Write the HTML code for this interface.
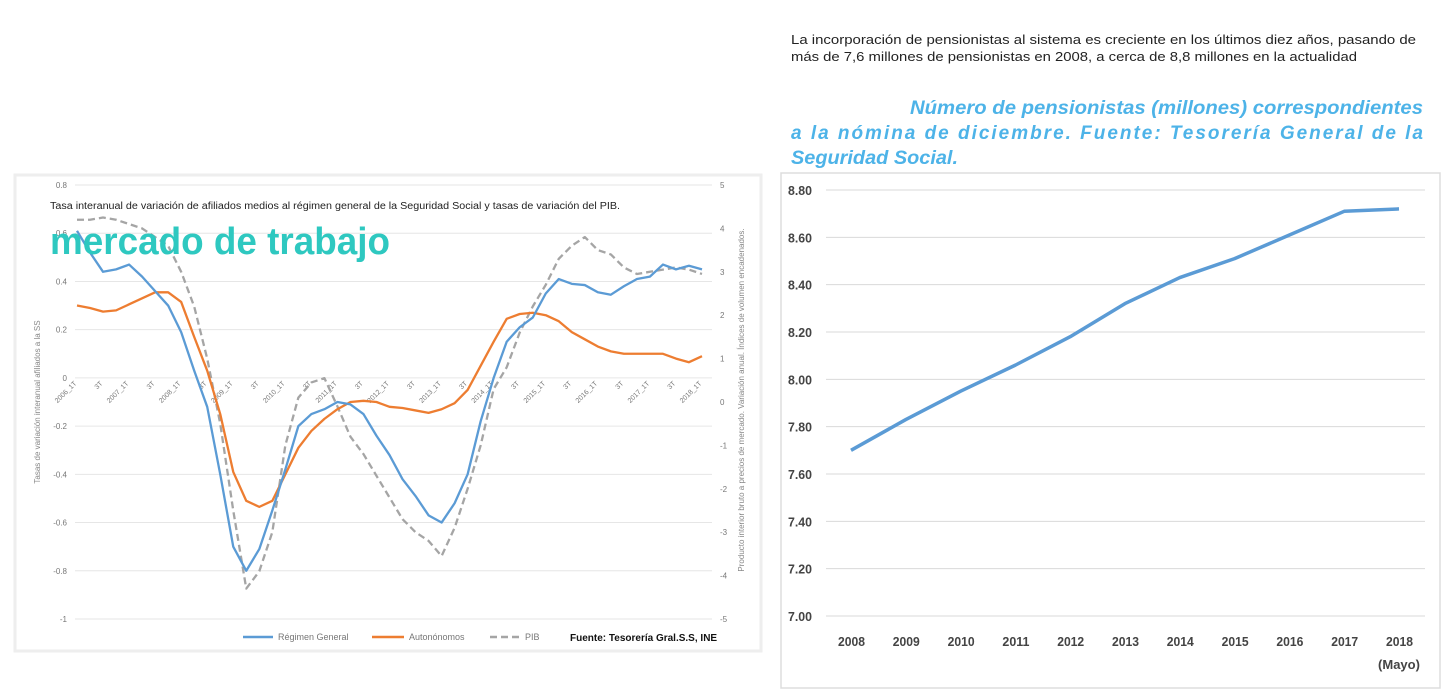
<!DOCTYPE html>
<html><head><meta charset="utf-8"><style>
body{margin:0;background:#fff;width:1447px;height:698px;overflow:hidden;font-family:"Liberation Sans",sans-serif}
svg{position:absolute;left:0;top:0}
</style></head><body>
<svg id="s" width="1447" height="698" xmlns="http://www.w3.org/2000/svg" font-family="Liberation Sans, sans-serif">
<rect x="15" y="175" width="746" height="476" fill="#fff" stroke="#eee" stroke-width="3"/>
<rect x="781" y="173" width="659" height="515" fill="#fff" stroke="#ddd" stroke-width="1.5"/>
<text x="791" y="44" font-size="13" fill="#222" textLength="625" lengthAdjust="spacingAndGlyphs">La incorporación de pensionistas al sistema es creciente en los últimos diez años, pasando de</text>
<text x="791" y="61" font-size="13" fill="#222" textLength="566" lengthAdjust="spacingAndGlyphs">más de 7,6 millones de pensionistas en 2008, a cerca de 8,8 millones en la actualidad</text>
<g font-size="19" font-weight="bold" font-style="italic" fill="#4db3e8">
<text x="910" y="114" textLength="513" lengthAdjust="spacingAndGlyphs">Número de pensionistas (millones) correspondientes</text>
<text x="791" y="139" textLength="632" lengthAdjust="spacing">a la nómina de diciembre. Fuente: Tesorería General de la</text>
<text x="791" y="164" textLength="167" lengthAdjust="spacingAndGlyphs">Seguridad Social.</text>
</g>
<text x="50" y="209" font-size="10" fill="#222" textLength="570" lengthAdjust="spacingAndGlyphs">Tasa interanual de variación de afiliados medios al régimen general de la Seguridad Social y tasas de variación del PIB.</text>
<text transform="translate(40,402) rotate(-90)" text-anchor="middle" font-size="8" fill="#888">Tasas de variación interanual afiliados a la SS</text>
<text transform="translate(744,400) rotate(-90)" text-anchor="middle" font-size="8" fill="#888">Producto interior bruto a precios de mercado. Variación anual. Índices de volumen encadenados.</text>
<g id="L"></g><g id="R"></g>
<text x="50" y="254" font-size="38" fill="#2ec8c0" font-weight="bold" textLength="340" lengthAdjust="spacingAndGlyphs">mercado de trabajo</text>
<g font-size="9" fill="#777">
<line x1="243" y1="637" x2="273" y2="637" stroke="#5b9bd5" stroke-width="2.5"/><text x="278" y="640">Régimen General</text>
<line x1="372" y1="637" x2="404" y2="637" stroke="#ed7d31" stroke-width="2.5"/><text x="409" y="640">Autonónomos</text>
<line x1="490" y1="637" x2="520" y2="637" stroke="#a5a5a5" stroke-width="2.5" stroke-dasharray="7,4"/><text x="525" y="640">PIB</text>
</g>
<text x="570" y="641" font-size="10" fill="#111" font-weight="bold">Fuente: Tesorería Gral.S.S, INE</text>
</svg>
<script>
const quarters=[];for(let y=2006;y<=2018;y++){for(let q=1;q<=4;q++){if(y===2018&&q>1)break;quarters.push(y+"_"+q+"T");}}
const regimen=[0.61,0.52,0.44,0.45,0.47,0.42,0.36,0.30,0.19,0.03,-0.12,-0.40,-0.70,-0.80,-0.71,-0.55,-0.38,-0.20,-0.15,-0.13,-0.10,-0.11,-0.15,-0.24,-0.32,-0.42,-0.49,-0.57,-0.60,-0.52,-0.40,-0.18,0.0,0.15,0.21,0.25,0.35,0.41,0.39,0.385,0.355,0.345,0.38,0.41,0.42,0.47,0.45,0.465,0.45];
const autonomos=[0.30,0.29,0.275,0.28,0.305,0.33,0.355,0.355,0.315,0.17,0.03,-0.15,-0.39,-0.51,-0.535,-0.51,-0.40,-0.29,-0.22,-0.17,-0.13,-0.10,-0.095,-0.10,-0.12,-0.125,-0.135,-0.145,-0.13,-0.105,-0.05,0.05,0.15,0.245,0.265,0.27,0.26,0.235,0.19,0.16,0.13,0.11,0.10,0.10,0.10,0.10,0.08,0.065,0.09];
const pib=[4.2,4.2,4.25,4.2,4.1,4.0,3.8,3.6,3.0,2.2,1.0,-0.5,-2.5,-4.3,-3.9,-3.0,-1.0,0.1,0.45,0.55,-0.1,-0.8,-1.2,-1.7,-2.2,-2.7,-3.0,-3.2,-3.55,-2.9,-2.0,-1.0,0.3,0.8,1.6,2.2,2.7,3.3,3.6,3.8,3.5,3.4,3.1,2.95,3.0,3.05,3.1,3.05,2.95];
const leftTicks=[0.8,0.6,0.4,0.2,0,-0.2,-0.4,-0.6,-0.8,-1];
const rightTicks=[5,4,3,2,1,0,-1,-2,-3,-4,-5];
const years=["2008","2009","2010","2011","2012","2013","2014","2015","2016","2017","2018"];
const pensionistas=[7.70,7.83,7.95,8.06,8.18,8.32,8.43,8.51,8.61,8.71,8.72];
const rTicks=[8.80,8.60,8.40,8.20,8.00,7.80,7.60,7.40,7.20,7.00];
const NS="http://www.w3.org/2000/svg";
function mk(p,t,a){const e=document.createElementNS(NS,t);for(const k in a)e.setAttribute(k,a[k]);p.appendChild(e);return e;}
const L=document.getElementById('L');
const xq=i=>77+i*(702-77)/(quarters.length-1);
const yl=v=>185+(0.8-v)*(619-185)/1.8;
const yr=v=>185+(5-v)*(619-185)/10;
leftTicks.forEach(v=>{const g=mk(L,'line',{x1:75,x2:712,y1:yl(v),y2:yl(v),stroke:'#e6e6e6','stroke-width':1});


const t=mk(L,'text',{x:67,y:yl(v)+3,'text-anchor':'end','font-size':8,fill:'#777'});t.textContent=String(v);

});
rightTicks.forEach(v=>{const t=mk(L,'text',{x:720,y:yr(v)+3,'font-size':8,fill:'#777'});t.textContent=String(v);

});
quarters.forEach((q,i)=>{if(i%2)return;const lab=(i%4===0)?q:"3T";const x=xq(i),y=yl(0)+6;
const t=mk(L,'text',{x:x,y:y,'text-anchor':'end','font-size':7,fill:'#777',transform:`rotate(-45 ${x} ${y})`});t.textContent=lab;

});
function series(arr,ys,col,name,dash){const p=mk(L,'polyline',{points:arr.map((v,i)=>xq(i)+','+ys(v)).join(' '),fill:'none',stroke:col,'stroke-width':2.3,'stroke-linejoin':'round'});
if(dash)p.setAttribute('stroke-dasharray',dash);

}
series(pib,yr,'#a5a5a5','pib-line','7,4');
series(autonomos,yl,'#ed7d31','autonomos-line');
series(regimen,yl,'#5b9bd5','regimen-general-line');
const R=document.getElementById('R');
const xy=i=>851+i*(1399-851)/(years.length-1);
const yp=v=>190+(8.8-v)*(616-190)/1.8;
rTicks.forEach(v=>{const g=mk(R,'line',{x1:826,x2:1425,y1:yp(v),y2:yp(v),stroke:'#d9d9d9','stroke-width':1});


const t=mk(R,'text',{x:788,y:yp(v)+5,'font-size':13,'font-weight':'bold',fill:'#444',textLength:24,lengthAdjust:'spacingAndGlyphs'});t.textContent=v.toFixed(2);

});
years.forEach((y,i)=>{const t=mk(R,'text',{x:xy(i)-13,y:646,'font-size':13,'font-weight':'bold',fill:'#444',textLength:27,lengthAdjust:'spacingAndGlyphs'});t.textContent=y;

});
const m=mk(R,'text',{x:xy(years.length-1),y:669,'text-anchor':'middle','font-size':13,'font-weight':'bold',fill:'#444'});m.textContent="(Mayo)";


const pl=mk(R,'polyline',{points:pensionistas.map((v,i)=>xy(i)+','+yp(v)).join(' '),fill:'none',stroke:'#5b9bd5','stroke-width':3.5,'stroke-linejoin':'round'});


</script>
</body></html>
